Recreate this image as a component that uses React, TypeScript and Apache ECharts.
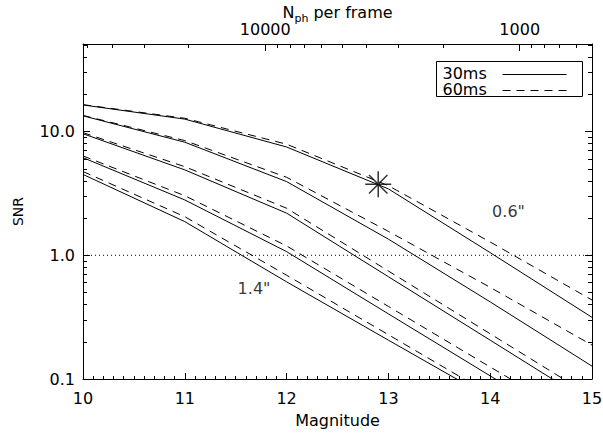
import React, { useEffect, useRef } from "react";
import * as echarts from "echarts";

// ---- data ----
const magnitudes = [10, 11, 12, 13, 14, 15];
// SNR for 30 ms exposures, seeing 0.6" (top) ... 1.4" (bottom)
const snr30ms = [
  [16.4, 12.6, 7.5, 3.44, 1.05, 0.315],
  [13.4, 8.2, 3.94, 1.35, 0.42, 0.127],
  [9.6, 4.9, 2.19, 0.671, 0.206, 0.063],
  [6.15, 2.8, 1.07, 0.336, 0.106, 0.033],
  [4.5, 1.87, 0.61, 0.206, 0.07, 0.022],
];
// SNR for 60 ms exposures
const snr60ms = [
  [16.5, 12.8, 7.9, 3.65, 1.28, 0.435],
  [13.5, 8.45, 4.27, 1.56, 0.55, 0.188],
  [9.8, 5.2, 2.4, 0.746, 0.232, 0.072],
  [6.35, 3.03, 1.19, 0.386, 0.125, 0.041],
  [4.75, 2.05, 0.69, 0.228, 0.075, 0.024],
];
const seriesNames = ["30ms", "60ms"];
const starMag = 12.9;
const starSNR = 3.75;
const thresholdSNR = 1.0;
const curveLabels = ['0.6"', '1.4"'];
const curveLabelMag = [14.18, 11.68];
const curveLabelSNR = [2.24, 0.543];

const xMin = 10;
const xMax = 15;
const yMin = 0.1;
const yMax = 51;
const yMajorTicks = [0.1, 1, 10];
const yMinorTicks = [
  0.2, 0.3, 0.4, 0.5, 0.6, 0.7, 0.8, 0.9, 2, 3, 4, 5, 6, 7, 8, 9, 20, 30, 40, 50,
];
const magAt10000 = 11.79; // magnitude giving 10000 photons per frame
const nphMajorTicks = [10000, 1000];
const nphMinorTicks = [
  50000, 40000, 30000, 20000, 9000, 8000, 7000, 6000, 5000, 4000, 3000, 2000, 900, 800, 700, 600,
];

const lg = (v: number) => Math.log10(v);
const nToMag = (n: number) => magAt10000 + 2.5 * Math.log10(10000 / n);
const magToN = (m: number) => 10000 * Math.pow(10, (magAt10000 - m) / 2.5);

const FONT = "DejaVu Sans";
const BLACK = "#000";
const DASH = [8, 6];

export default function App() {
  const ref = useRef<HTMLDivElement>(null);
  useEffect(() => {
    document.body.style.margin = "0";
    if (!ref.current) return;
    const chart = echarts.init(ref.current, undefined, { renderer: "svg" });

    const lineSeries: any[] = [];
    const addSet = (sets: number[][], name: string, type: any) => {
      sets.forEach((vals) => {
        lineSeries.push({
          type: "line",
          name,
          data: magnitudes.map((m, j) => [m, lg(vals[j])]),
          symbol: "none",
          showSymbol: false,
          color: BLACK,
          lineStyle: { color: BLACK, width: 1, type },
          clip: true,
          silent: true,
          z: 3,
        });
      });
    };
    addSet(snr30ms, seriesNames[0], "solid");
    addSet(snr60ms, seriesNames[1], DASH);

    const txt = { fontFamily: FONT, fontSize: 16, color: BLACK };
    const axisLineStyle = { show: true, onZero: false, lineStyle: { color: BLACK, width: 1 } };
    const noLine = { show: false, onZero: false };

    // legend box drawn as graphic: text on the left, line sample on the right
    const legendLeft = 436;
    const legendTop = 61;
    const legendW = 146;
    const legendH = 35;
    const legendRowGap = 16;
    const legendGraphic = {
      type: "group",
      left: legendLeft,
      top: legendTop,
      silent: true,
      z: 10,
      children: [
        {
          type: "rect",
          shape: { x: 0, y: 0, width: legendW, height: legendH },
          style: { fill: "#fff", stroke: BLACK, lineWidth: 1 },
        },
        ...seriesNames.flatMap((name, i) => [
          {
            type: "text",
            x: 6,
            y: 12 + i * legendRowGap,
            style: {
              text: name,
              fill: BLACK,
              font: `16px "${FONT}"`,
              lineHeight: 14,
              verticalAlign: "middle",
              align: "left",
            },
          },
          {
            type: "line",
            shape: { x1: 66, y1: 13 + i * legendRowGap, x2: 130, y2: 13 + i * legendRowGap },
            style: { stroke: BLACK, lineWidth: 1, lineDash: i === 0 ? null : DASH },
          },
        ]),
      ],
    };

    const option: any = {
      animation: false,
      textStyle: { fontFamily: FONT },
      grid: {
        left: 83,
        right: 11,
        top: 44,
        bottom: 56,
        containLabel: false,
        outerBoundsMode: "none",
      },
      graphic: [legendGraphic],
      xAxis: [
        {
          type: "value",
          position: "bottom",
          min: xMin,
          max: xMax,
          interval: 1,
          axisLine: axisLineStyle,
          axisTick: { show: true, inside: true, length: 6, lineStyle: { color: BLACK } },
          minorTick: { show: true, splitNumber: 10, length: 3, lineStyle: { color: BLACK } },
          axisLabel: { ...txt, margin: 11 },
          splitLine: { show: false },
          minorSplitLine: { show: false },
          name: "Magnitude",
          nameLocation: "middle",
          nameGap: 33,
          nameMoveOverlap: false,
          nameTextStyle: txt,
        },
        {
          type: "value",
          position: "top",
          min: xMin,
          max: xMax,
          axisLine: axisLineStyle,
          axisTick: {
            show: true,
            inside: true,
            length: 7,
            lineStyle: { color: BLACK },
            customValues: nphMajorTicks.map(nToMag),
          },
          axisLabel: {
            ...txt,
            margin: 8,
            lineHeight: 14,
            customValues: nphMajorTicks.map(nToMag),
            formatter: (v: number) => String(Math.round(magToN(v))),
          },
          splitLine: { show: false },
          name: "N{sub|ph} per frame",
          nameLocation: "middle",
          nameGap: 20,
          nameMoveOverlap: false,
          nameTextStyle: {
            ...txt,
            lineHeight: 24,
            rich: {
              sub: { fontFamily: FONT, fontSize: 11, color: BLACK, lineHeight: 8, verticalAlign: "bottom" },
            },
          },
        },
        {
          type: "value",
          position: "top",
          min: xMin,
          max: xMax,
          axisLine: noLine,
          axisTick: {
            show: true,
            inside: true,
            length: 4,
            lineStyle: { color: BLACK },
            customValues: nphMinorTicks.map(nToMag),
          },
          axisLabel: { show: false },
          splitLine: { show: false },
        },
      ],
      yAxis: [
        {
          type: "value",
          position: "left",
          min: lg(yMin),
          max: lg(yMax),
          axisLine: axisLineStyle,
          axisTick: {
            show: true,
            inside: true,
            length: 7,
            lineStyle: { color: BLACK },
            customValues: yMajorTicks.map(lg),
          },
          axisLabel: {
            ...txt,
            margin: 8,
            customValues: yMajorTicks.map(lg),
            formatter: (v: number) => Math.pow(10, v).toFixed(1),
          },
          splitLine: { show: false },
          name: "SNR",
          nameLocation: "middle",
          nameGap: 58,
          nameMoveOverlap: false,
          nameTextStyle: { ...txt, fontSize: 14 },
        },
        {
          type: "value",
          position: "left",
          min: lg(yMin),
          max: lg(yMax),
          axisLine: noLine,
          axisTick: {
            show: true,
            inside: true,
            length: 4,
            lineStyle: { color: BLACK },
            customValues: yMinorTicks.map(lg),
          },
          axisLabel: { show: false },
          splitLine: { show: false },
        },
        {
          type: "value",
          position: "right",
          min: lg(yMin),
          max: lg(yMax),
          axisLine: axisLineStyle,
          axisTick: {
            show: true,
            inside: true,
            length: 7,
            lineStyle: { color: BLACK },
            customValues: yMajorTicks.map(lg),
          },
          axisLabel: { show: false },
          splitLine: { show: false },
        },
        {
          type: "value",
          position: "right",
          min: lg(yMin),
          max: lg(yMax),
          axisLine: noLine,
          axisTick: {
            show: true,
            inside: true,
            length: 4,
            lineStyle: { color: BLACK },
            customValues: yMinorTicks.map(lg),
          },
          axisLabel: { show: false },
          splitLine: { show: false },
        },
      ],
      series: [
        {
          type: "line",
          name: "threshold",
          data: [
            [xMin, lg(thresholdSNR)],
            [xMax, lg(thresholdSNR)],
          ],
          symbol: "none",
          color: BLACK,
          lineStyle: { color: BLACK, width: 1, type: [1, 3] },
          silent: true,
          z: 2,
        },
        ...lineSeries,
        {
          type: "scatter",
          name: "star",
          data: [[starMag, lg(starSNR)]],
          symbol:
            "path://M12,0 L12,24 M0,12 L24,12 M3.5,3.5 L20.5,20.5 M3.5,20.5 L20.5,3.5",
          symbolSize: 26,
          itemStyle: { color: "none", borderColor: BLACK, borderWidth: 1.5 },
          silent: true,
          z: 5,
        },
        {
          type: "scatter",
          name: "labels",
          data: curveLabels.map((t, i) => ({
            name: t,
            value: [curveLabelMag[i], lg(curveLabelSNR[i])],
          })),
          symbolSize: 1,
          itemStyle: { color: "transparent" },
          label: { show: true, position: "inside", formatter: "{b}", ...txt },
          silent: true,
          z: 5,
        },
      ],
    };
    chart.setOption(option);
    return () => chart.dispose();
  }, []);
  return <div ref={ref} style={{ width: 603, height: 435 }} />;
}
